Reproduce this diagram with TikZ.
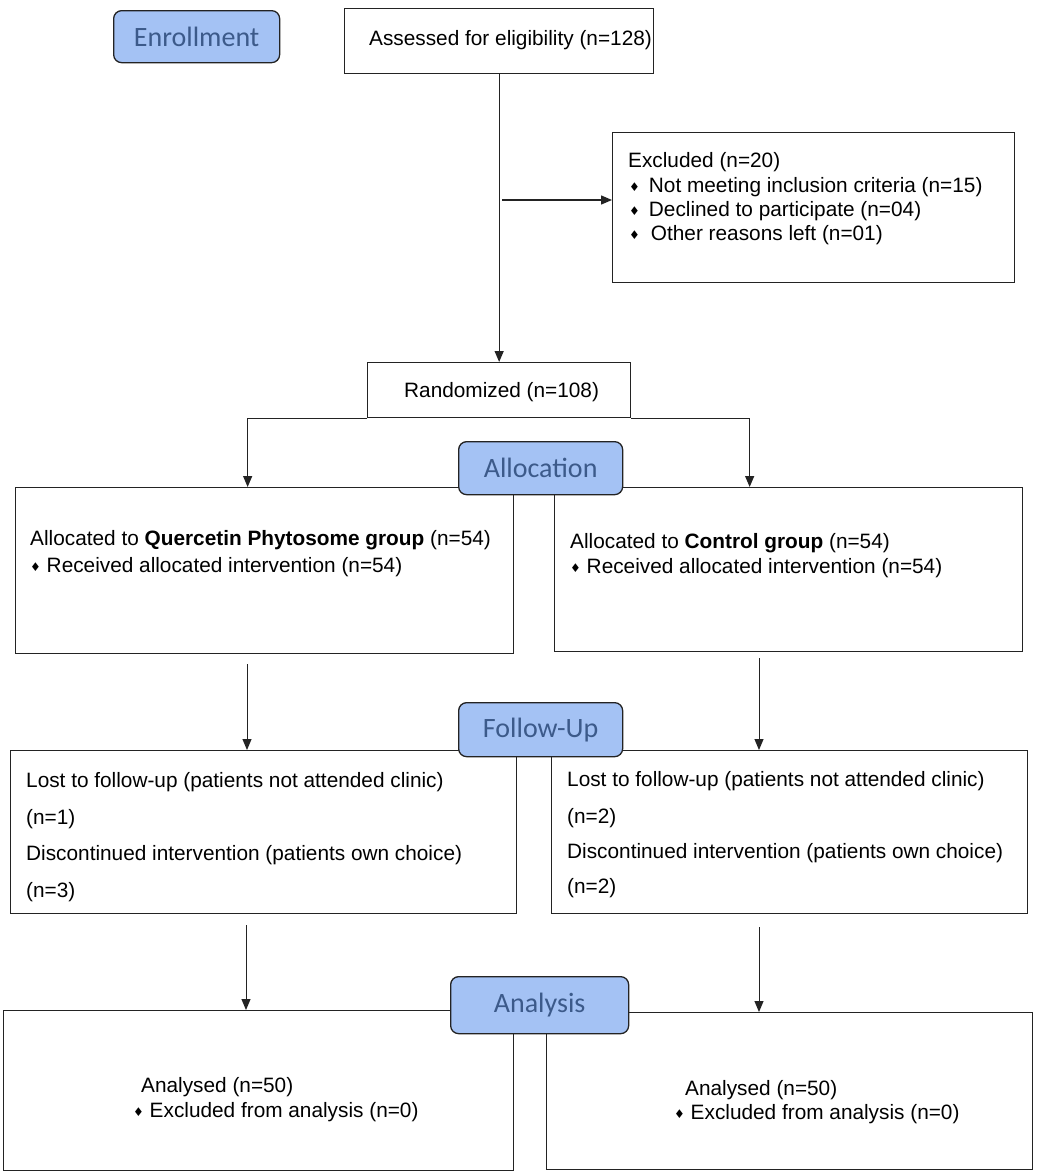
\documentclass[tikz,border=0pt]{standalone}
\usepackage{fontspec}
\setmainfont{Liberation Sans}
\newfontfamily\labfont{Carlito}
\newfontfamily\djv{DejaVu Sans}
\usetikzlibrary{arrows.meta}
\definecolor{labfill}{RGB}{164,194,244}
\definecolor{labtext}{RGB}{60,90,138}
\definecolor{edge}{RGB}{35,35,35}
\newcommand\bul{{\djv\fontsize{12}{12}\selectfont\raisebox{0.5pt}{♦}}}
\begin{document}
\begin{tikzpicture}[x=1pt,y=-1pt,
  box/.style={draw=edge,line width=1.3pt,fill=white,inner sep=0pt,anchor=north west},
  lab/.style={draw=edge,line width=1.3pt,fill=labfill,rounded corners=8pt,inner sep=0pt,
    anchor=north west,text=labtext,font=\labfont\fontsize{28}{28}\selectfont},
  txt/.style={anchor=base west,inner sep=0pt,font=\fontsize{20.8}{25}\selectfont},
  arr/.style={draw=edge,line width=1.3pt,-{Triangle[length=11pt,width=9pt]}},
  arrt/.style={draw=edge,line width=1pt,-{Triangle[length=11pt,width=9pt]}}]
\useasboundingbox (0,0) rectangle (1038,1176);
\fill[white] (0,0) rectangle (1038,1176);

% boxes
\node[box,minimum width=309,minimum height=65] (assess) at (344,8) {};
\node[box,minimum width=402,minimum height=150] (excl) at (612,132) {};
\node[box,minimum width=263,minimum height=55] (rand) at (367,362) {};
\node[box,minimum width=498,minimum height=166] (qgrp) at (15,487) {};
\node[box,minimum width=468,minimum height=164] (ctrl) at (554,487) {};
\node[box,minimum width=506,minimum height=163] (lfol) at (10,750) {};
\node[box,minimum width=476,minimum height=163] (rfol) at (551,750) {};
\node[box,minimum width=510,minimum height=160] (lana) at (3,1010) {};
\node[box,minimum width=486,minimum height=157] (rana) at (546,1012) {};

% texts
\node[txt] (t1) at (369,45) {Assessed for eligibility (n=128)};
\node[txt] (t2) at (628,167) {Excluded (n=20)};
\node[txt] (t3) at (629,192) {\bul\hspace{9pt}Not meeting inclusion criteria (n=15)};
\node[txt] (t4) at (629,216) {\bul\hspace{9pt}Declined to participate (n=04)};
\node[txt] (t5) at (629,240) {\bul\hspace{11pt}Other reasons left (n=01)};
\node[txt] (t6) at (404,397) {Randomized (n=108)};
\node[txt] (t7) at (30,545) {Allocated to \textbf{Quercetin Phytosome group} (n=54)};
\node[txt] (t8) at (30,572) {\bul\ Received allocated intervention (n=54)};
\node[txt] (t9) at (570,548) {Allocated to \textbf{Control group} (n=54)};
\node[txt] (t10) at (570,573) {\bul\ Received allocated intervention (n=54)};
\node[txt] (t11) at (26,787) {Lost to follow-up (patients not attended clinic)};
\node[txt] (t12) at (26,824) {(n=1)};
\node[txt] (t13) at (26,860) {Discontinued intervention (patients own choice)};
\node[txt] (t14) at (26,897) {(n=3)};
\node[txt] (t15) at (567,786) {Lost to follow-up (patients not attended clinic)};
\node[txt] (t16) at (567,823) {(n=2)};
\node[txt] (t17) at (567,858) {Discontinued intervention (patients own choice)};
\node[txt] (t18) at (567,893) {(n=2)};
\node[txt] (t19) at (141,1092) {Analysed (n=50)};
\node[txt] (t20) at (133,1117) {\bul\ Excluded from analysis (n=0)};
\node[txt] (t21) at (685,1095) {Analysed (n=50)};
\node[txt] (t22) at (674,1119) {\bul\ Excluded from analysis (n=0)};

% connectors
\draw[arr] (assess.south) -- (rand.north);
\coordinate (exs) at (502,200);
\draw[arr] (exs) -- (exs -| excl.west);
\draw[arr] (rand.south west) -| ([xshift=-17pt]qgrp.north);
\draw[arr] (rand.south east) -| ([xshift=-39pt]ctrl.north);
\coordinate (f1) at (247,664);
\coordinate (f2) at (759,658);
\coordinate (f3) at (246,925);
\coordinate (f4) at (759,927);
\draw[arrt] (f1) -- (f1 |- lfol.north);
\draw[arrt] (f2) -- (f2 |- rfol.north);
\draw[arrt] (f3) -- (f3 |- lana.north);
\draw[arrt] (f4) -- (f4 |- rana.north);

% stage labels
\node[lab,minimum width=166,minimum height=52] (enr) at (113,10) {Enrollment};
\node[lab,minimum width=164,minimum height=53] (alloc) at (458,441) {Allocation};
\node[lab,minimum width=164,minimum height=54] (fol) at (458,702) {Follow-Up};
\node[lab,minimum width=178,minimum height=57] (ana) at (450,976) {Analysis};
\end{tikzpicture}
\end{document}
